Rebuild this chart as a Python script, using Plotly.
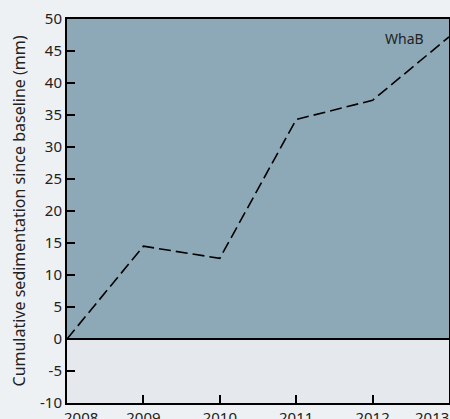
import plotly.graph_objects as go

years = [2008, 2009, 2010, 2011, 2012, 2013]
sedimentation = [0, 14.5, 12.6, 34.3, 37.3, 47.2]
series_name = "WhaB"
y_ticks = [-10, -5, 0, 5, 10, 15, 20, 25, 30, 35, 40, 45, 50]
y_ticktext = [str(v) for v in y_ticks]
x_ticks = [2008, 2009, 2010, 2011, 2012, 2013]
# end labels are drawn as annotations, pushed inside the plot edges
x_ticktext = ["" if v in (x_ticks[0], x_ticks[-1]) else str(v) for v in x_ticks]

fig = go.Figure()
fig.add_trace(go.Scatter(
    x=years, y=sedimentation, mode="lines", name=series_name,
    line=dict(color="black", width=1.6, dash="12px,5px"),
    showlegend=False, hoverinfo="skip",
))

fig.add_shape(type="rect", xref="paper", yref="y", x0=0, x1=1, y0=0, y1=50,
              fillcolor="#8DA9B7", line_width=0, layer="below")
fig.add_shape(type="rect", xref="paper", yref="y", x0=0, x1=1, y0=-10, y1=0,
              fillcolor="#E5E9ED", line_width=0, layer="below")
fig.add_shape(type="line", xref="paper", yref="y", x0=0, x1=1, y0=0, y1=0,
              line=dict(color="black", width=2))

fig.add_annotation(x=2012.42, y=47.0, text=series_name, showarrow=False,
                   xref="x", yref="y", font=dict(size=14, color="#222"))

fig.add_annotation(x=x_ticks[0], y=0, xref="x", yref="paper", text=str(x_ticks[0]),
                   showarrow=False, xanchor="left", yanchor="top", xshift=-5, yshift=-2,
                   font=dict(size=15, color="#222"))
fig.add_annotation(x=x_ticks[-1], y=0, xref="x", yref="paper", text=str(x_ticks[-1]),
                   showarrow=False, xanchor="right", yanchor="top", xshift=2, yshift=-2,
                   font=dict(size=15, color="#222"))

fig.update_layout(
    width=450, height=419,
    margin=dict(l=67, r=1, t=19, b=16),
    paper_bgcolor="#EEF1F4",
    plot_bgcolor="#E5E9ED",
    font=dict(family="Noto Sans", size=15, color="#222"),
    xaxis=dict(range=[2008, 2013], tickvals=x_ticks, ticktext=x_ticktext,
               ticks="inside", ticklen=8,
               tickwidth=2, tickcolor="black", showline=True, linecolor="black",
               linewidth=2, mirror=True, showgrid=False, zeroline=False,
               automargin=False, tickfont=dict(size=15),
               ticklabeloverflow="allow"),
    yaxis=dict(range=[-10, 50], tickvals=y_ticks, ticktext=y_ticktext,
               ticks="inside", ticklen=8,
               tickwidth=2, tickcolor="black", showline=True, linecolor="black",
               linewidth=2, mirror=True, showgrid=False, zeroline=False,
               automargin=False, tickfont=dict(size=15),
               title=dict(text="Cumulative sedimentation since baseline (mm)",
                          font=dict(size=16), standoff=10)),
)

fig.write_html("out.html", config={"displayModeBar": False},
               post_script="document.body.style.margin='0';document.body.style.overflow='hidden';")
